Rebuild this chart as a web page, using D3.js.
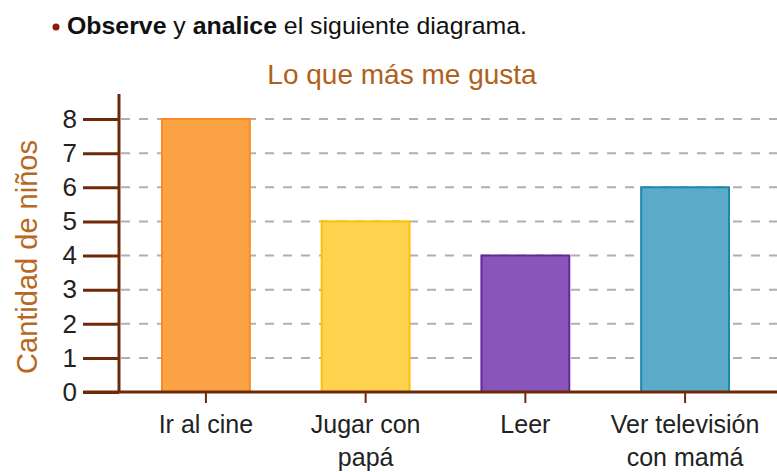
<!DOCTYPE html>
<meta charset="utf-8">
<style>
  body { margin: 0; background: #fff; }
  text { font-family: "Liberation Sans", Arial, sans-serif; }
</style>
<body>
<script src="https://d3js.org/d3.v7.min.js"></script>
<script>
var categories = [["Ir al cine"], ["Jugar con", "papá"], ["Leer"], ["Ver televisión", "con mamá"]];
var values = [8, 5, 4, 6];
var fills = ["#fba345", "#ffd34e", "#8a55ba", "#5babc8"];
var strokes = ["#f98c1e", "#ffc000", "#5e2a99", "#1b88b0"];
var yTicks = [0, 1, 2, 3, 4, 5, 6, 7, 8];

var W = 777, H = 472;
var svg = d3.select("body").append("svg").attr("width", W).attr("height", H);

var brown = "#6e2a08";

// scales
var x = d3.scaleBand()
    .domain(d3.range(categories.length))
    .range([162, 729])
    .paddingInner(0.45)
    .paddingOuter(0);

var y = d3.scaleLinear().domain([0, 8]).range([392, 119]);

// header
var head = svg.append("text").attr("x", 67).attr("y", 34)
    .style("font-size", "24.5px").attr("fill", "#111")
    .attr("textLength", 460).attr("lengthAdjust", "spacingAndGlyphs");
head.append("tspan").attr("font-weight", "bold").text("Observe");
head.append("tspan").text(" y ");
head.append("tspan").attr("font-weight", "bold").text("analice");
head.append("tspan").text(" el siguiente diagrama.");
svg.append("circle").attr("cx", 56).attr("cy", 27).attr("r", 3.5).attr("fill", "#8b1a0a");

// title
svg.append("text").attr("x", 402).attr("y", 84)
    .attr("text-anchor", "middle")
    .style("font-size", "28px").attr("fill", "#b0601a")
    .text("Lo que más me gusta");

// y title
svg.append("text")
    .attr("transform", "translate(37,257) rotate(-90)")
    .attr("text-anchor", "middle")
    .style("font-size", "29px").attr("fill", "#b8681e")
    .text("Cantidad de niños");

// grid
svg.append("g").selectAll("line")
    .data(yTicks.filter(function(d) { return d > 0; }))
    .enter().append("line")
    .attr("x1", 121).attr("x2", W)
    .attr("y1", function(d) { return y(d); })
    .attr("y2", function(d) { return y(d); })
    .attr("stroke", "#b0b0b0").attr("stroke-width", 2)
    .attr("stroke-dasharray", "9,9");

// bars
svg.append("g").selectAll("rect")
    .data(values)
    .enter().append("rect")
    .attr("x", function(d, i) { return x(i); })
    .attr("y", function(d) { return y(d); })
    .attr("width", x.bandwidth())
    .attr("height", function(d) { return y(0) - y(d); })
    .attr("fill", function(d, i) { return fills[i]; })
    .attr("stroke", function(d, i) { return strokes[i]; })
    .attr("stroke-width", 2);

// y axis
var yAxis = svg.append("g")
    .attr("transform", "translate(119,0)")
    .call(d3.axisLeft(y).tickValues(yTicks).tickSize(36).tickPadding(6));
yAxis.select(".domain").remove();
yAxis.selectAll("line").attr("stroke", brown).attr("stroke-width", 3);
yAxis.selectAll("text").style("font-size", "26px").attr("fill", "#222")
    .style("font-family", "'Liberation Sans', Arial, sans-serif");
svg.append("line").attr("x1", 119).attr("x2", 119).attr("y1", 94).attr("y2", y(0))
    .attr("stroke", brown).attr("stroke-width", 3);

// x axis
var xAxis = svg.append("g")
    .attr("transform", "translate(0," + y(0) + ")")
    .call(d3.axisBottom(x).tickSize(11).tickFormat(""));
xAxis.select(".domain").remove();
xAxis.selectAll("line").attr("stroke", brown).attr("stroke-width", 2);
svg.append("line").attr("x1", 83).attr("x2", W).attr("y1", y(0)).attr("y2", y(0))
    .attr("stroke", brown).attr("stroke-width", 3);

// x labels
var lab = svg.append("g").selectAll("text")
    .data(categories)
    .enter().append("text")
    .attr("text-anchor", "middle")
    .attr("x", function(d, i) { return x(i) + x.bandwidth() / 2; })
    .attr("y", 433)
    .style("font-size", "25px").attr("fill", "#222");
lab.selectAll("tspan")
    .data(function(d) { return d; })
    .enter().append("tspan")
    .attr("x", function() { return d3.select(this.parentNode).attr("x"); })
    .attr("dy", function(d, i) { return i ? 33 : 0; })
    .text(function(d) { return d; });
</script>
</body>
